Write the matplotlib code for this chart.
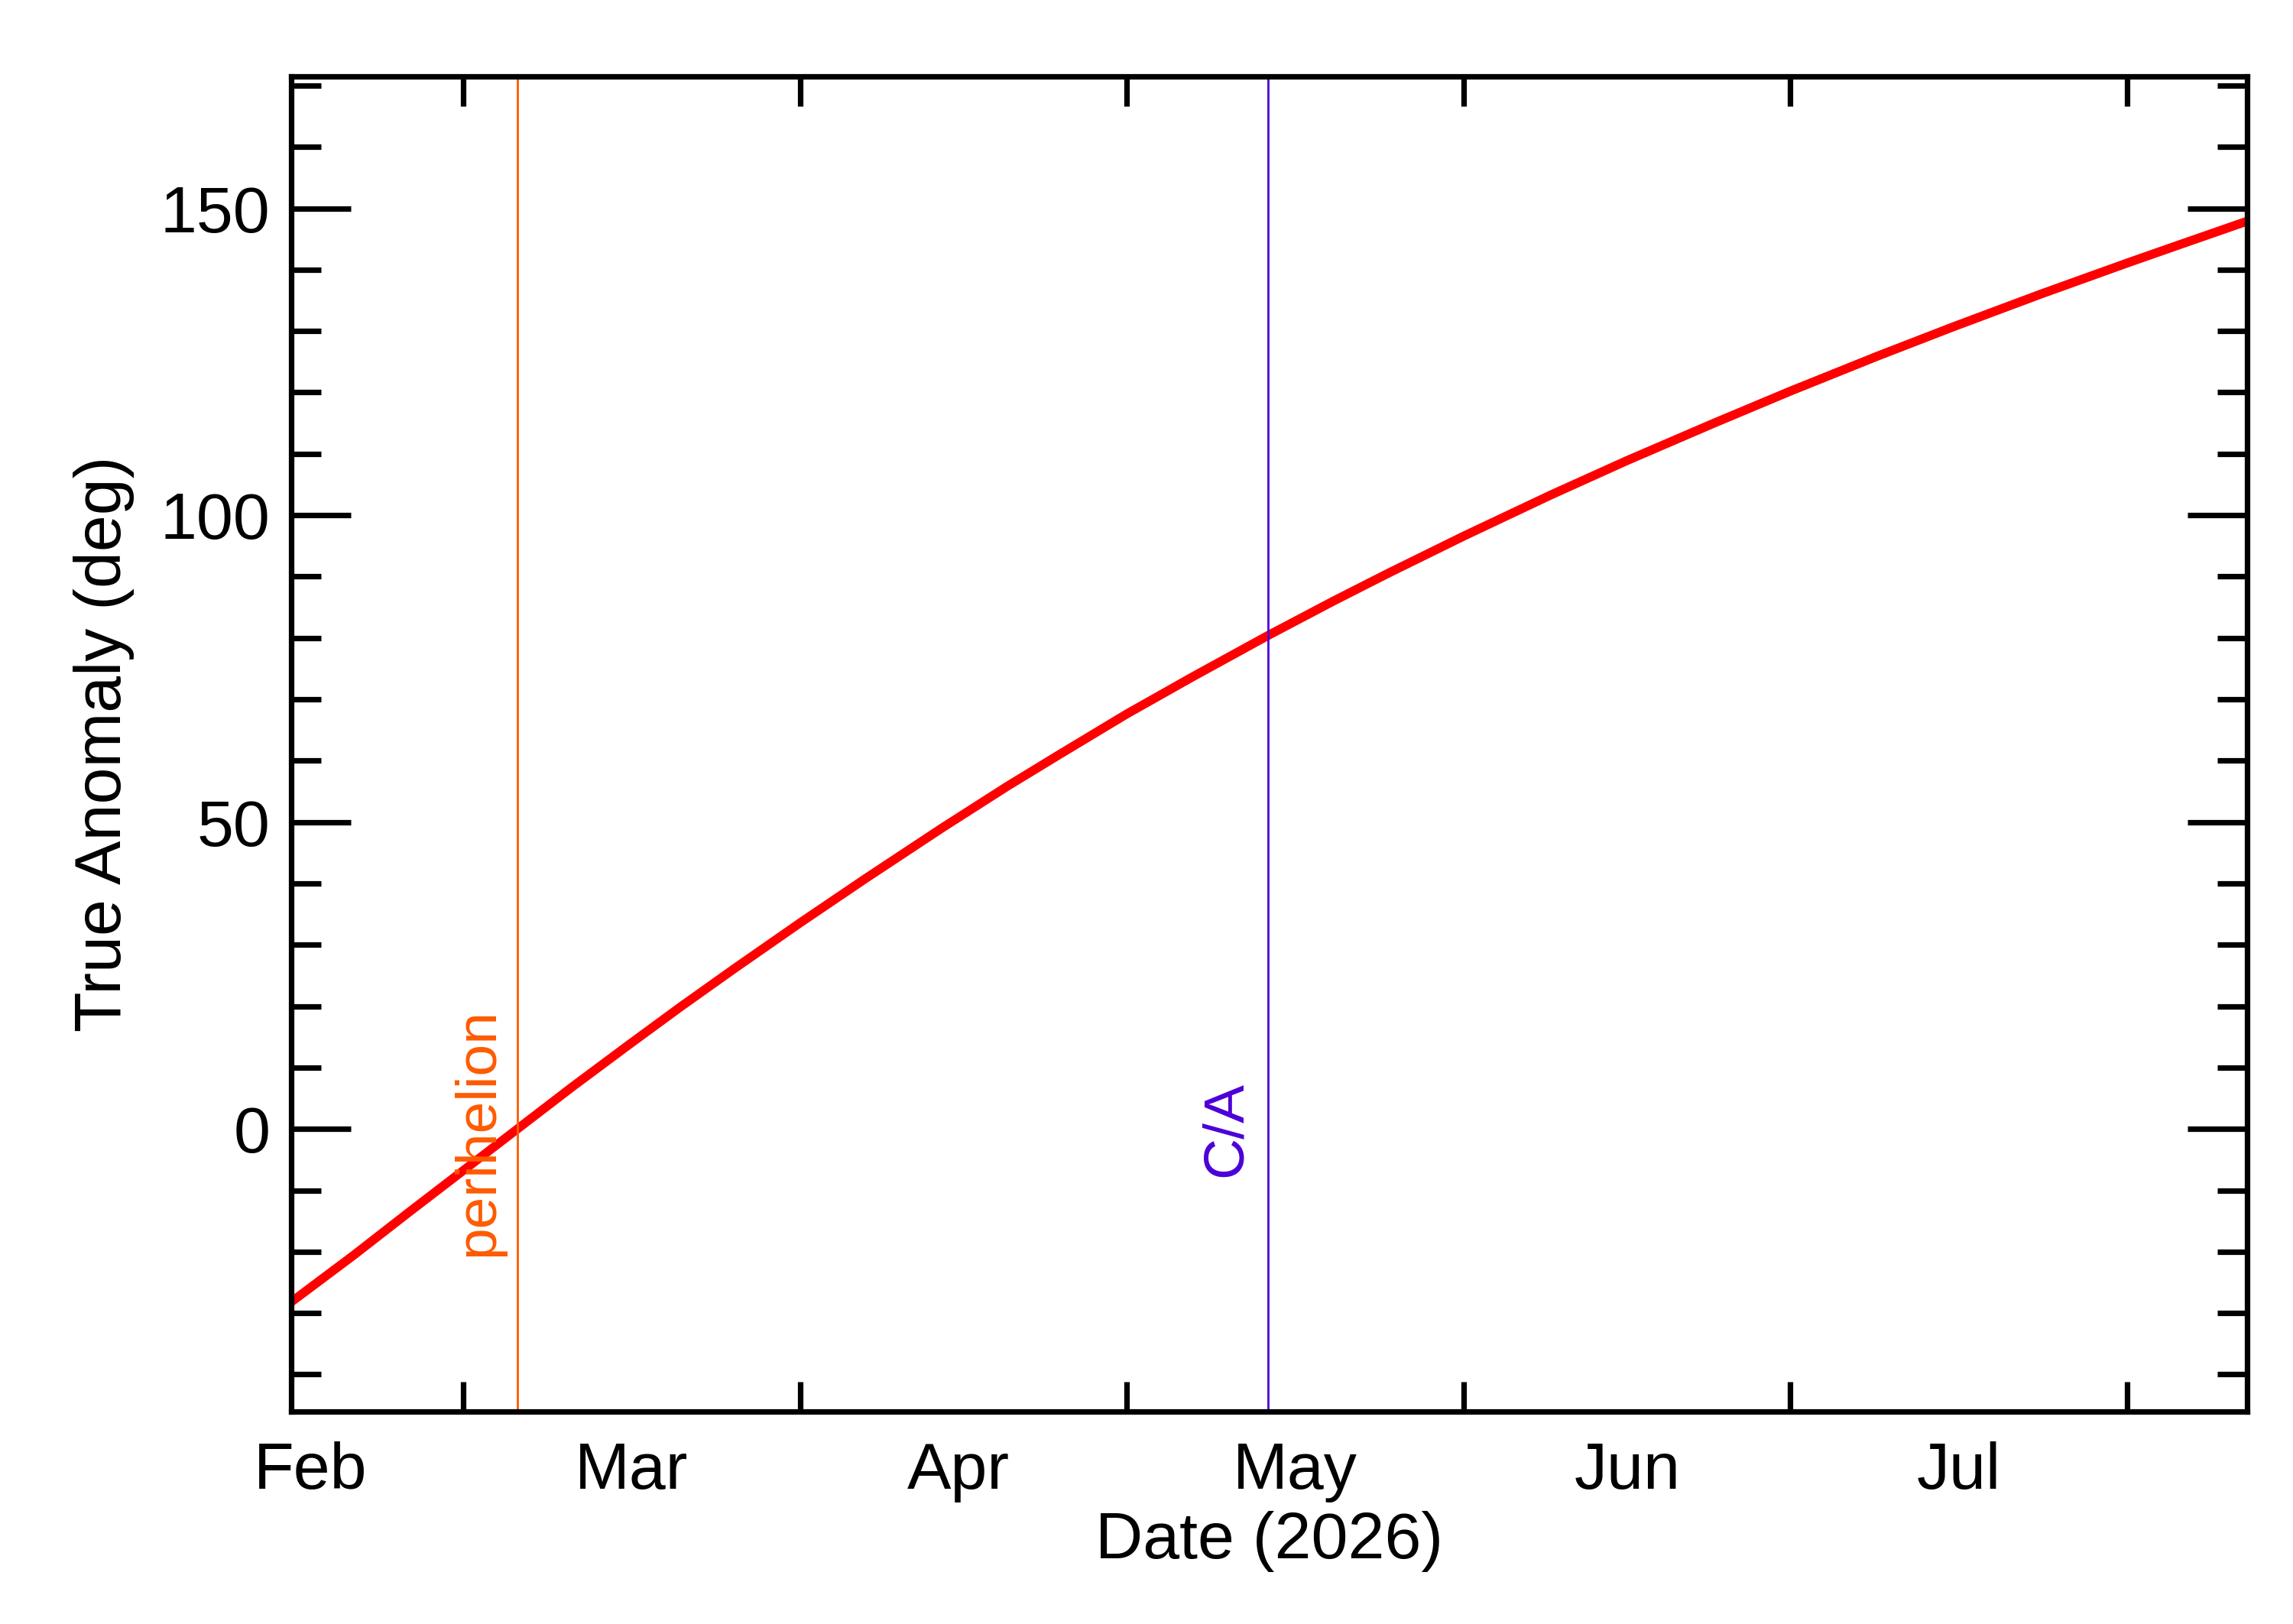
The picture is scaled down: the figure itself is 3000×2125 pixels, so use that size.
import matplotlib.pyplot as plt
from matplotlib.ticker import FixedLocator, MultipleLocator

plt.rcParams["font.family"] = ["Liberation Sans", "DejaVu Sans"]

# x: days since 2026-03-01
days = [-15.8, -10, -5, 0, 5, 10, 15, 20, 25, 31, 37, 44, 50, 55, 61, 67, 74, 80, 85,
        92, 100, 107, 115, 122, 130, 137, 145, 153, 158, 164]
anomaly = [-28.2, -20.5, -13.6, -6.8, 0, 6.8, 13.4, 19.9, 26.2, 33.6, 40.8, 49.0, 55.8,
           61.2, 67.6, 73.6, 80.4, 86.0, 90.5, 96.6, 103.3, 108.9, 115.0, 120.2, 125.9,
           130.7, 136.0, 141.1, 144.2, 147.9]
month_starts = [0, 31, 61, 92, 122, 153]
label_pos = [-14, 15.5, 45.5, 76.5, 107, 137.5]
month_labels = ["Feb", "Mar", "Apr", "May", "Jun", "Jul"]
perihelion_day = 5
ca_day = 74

fig = plt.figure(figsize=(15, 10.625), dpi=200)
ax = fig.add_axes([0.127, 0.131, 0.853, 0.822])
ax.plot(days, anomaly, color="red", lw=4.2, solid_capstyle="butt")
ax.axvline(perihelion_day, color="#ff5a00", lw=1.0)
ax.axvline(ca_day, color="#4b00d8", lw=1.0)
ax.text(perihelion_day - 1.2, -0.5, "perihelion", rotation=90, color="#ff5a00",
        fontsize=27, ha="right", va="center")
ax.text(ca_day - 1.4, 0, "C/A", rotation=90, color="#4b00d8",
        fontsize=27, ha="right", va="center")

ax.set_xlim(-15.8, 164)
ax.set_ylim(-46, 171.5)
ax.xaxis.set_major_locator(FixedLocator(month_starts))
ax.xaxis.set_minor_locator(FixedLocator(label_pos))
ax.set_xticklabels([""] * len(month_starts))
ax.set_xticks(label_pos, month_labels, minor=True)
ax.tick_params(axis="x", which="major", direction="in", length=14, width=2.6,
               top=True, labelbottom=False)
ax.tick_params(axis="x", which="minor", length=0, labelsize=31, pad=14)
ax.yaxis.set_major_locator(MultipleLocator(50))
ax.yaxis.set_minor_locator(MultipleLocator(10))
ax.tick_params(axis="y", which="major", direction="in", length=28, width=2.6,
               right=True, labelsize=31, pad=10)
ax.tick_params(axis="y", which="minor", direction="in", length=14, width=2.6, right=True)
for s in ax.spines.values():
    s.set_linewidth(2.6)
ax.set_xlabel("Date (2026)", fontsize=31, labelpad=4)
ax.set_ylabel("True Anomaly (deg)", fontsize=31, labelpad=12)

fig.savefig("out.png", dpi=200)
